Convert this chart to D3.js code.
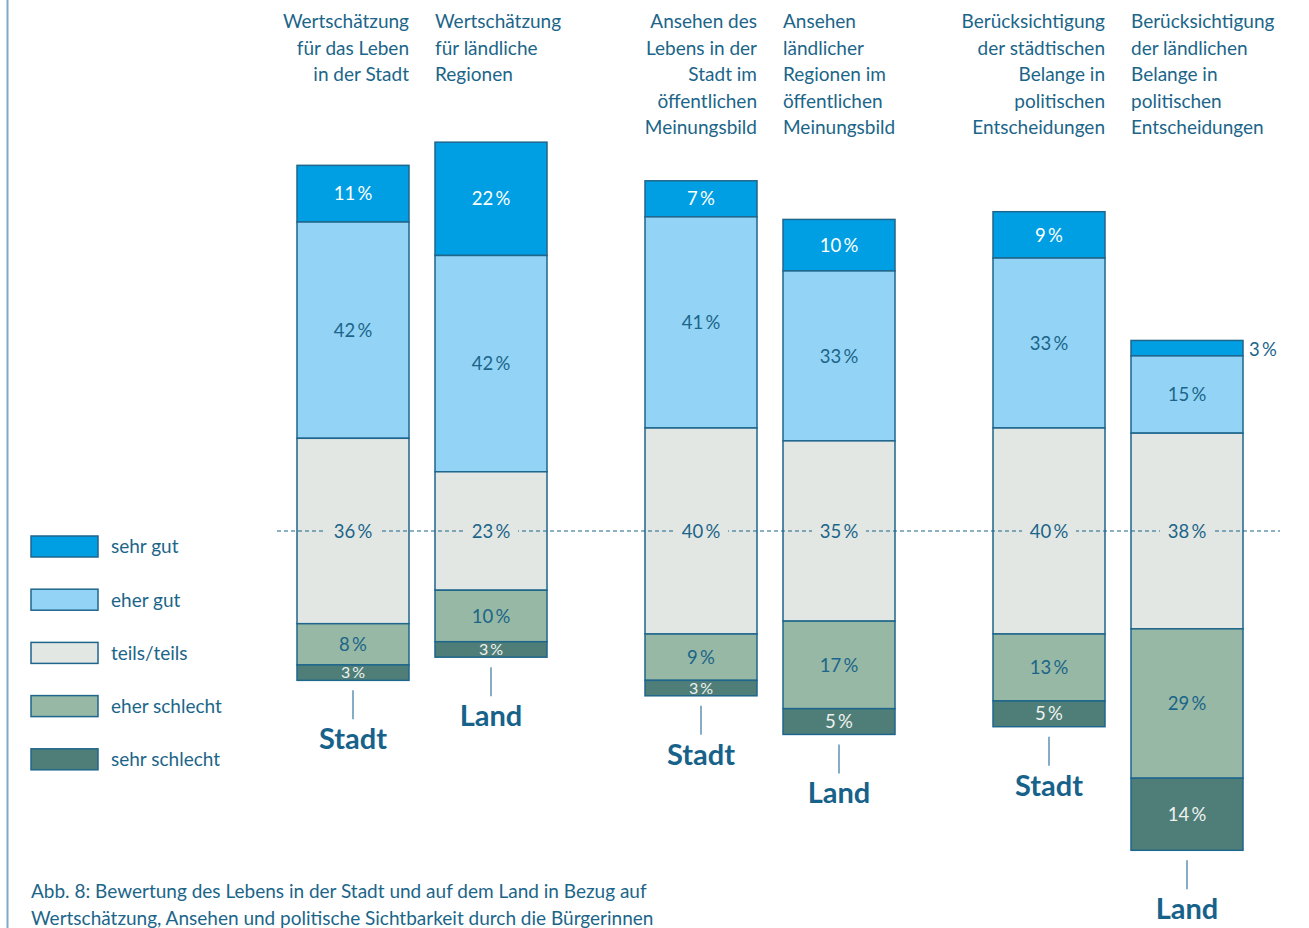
<!DOCTYPE html>
<html>
<head>
<meta charset="utf-8">
<script src="https://cdn.jsdelivr.net/npm/d3@7"></script>
<style>
  body { margin: 0; background: #fff; }
  svg text { font-family: Lato, "Open Sans", sans-serif; }
</style>
</head>
<body>
<svg id="canvas" width="1309" height="928"></svg>
<script>
// data
let categories = ['sehr gut', 'eher gut', 'teils/teils', 'eher schlecht', 'sehr schlecht']
let groups = ['Wertschätzung', 'Ansehen', 'Berücksichtigung']
let places = ['Stadt', 'Land']
let barValues = [
  [11, 42, 36, 8, 3],
  [22, 42, 23, 10, 3],
  [7, 41, 40, 9, 3],
  [10, 33, 35, 17, 5],
  [9, 33, 40, 13, 5],
  [3, 15, 38, 29, 14]
]
let headers = [
  ['Wertschätzung', 'für das Leben', 'in der Stadt'],
  ['Wertschätzung', 'für ländliche', 'Regionen'],
  ['Ansehen des', 'Lebens in der', 'Stadt im', 'öffentlichen', 'Meinungsbild'],
  ['Ansehen', 'ländlicher', 'Regionen im', 'öffentlichen', 'Meinungsbild'],
  ['Berücksichtigung', 'der städtischen', 'Belange in', 'politischen', 'Entscheidungen'],
  ['Berücksichtigung', 'der ländlichen', 'Belange in', 'politischen', 'Entscheidungen']
]
let captionLines = [
  'Abb. 8: Bewertung des Lebens in der Stadt und auf dem Land in Bezug auf',
  'Wertschätzung, Ansehen und politische Sichtbarkeit durch die Bürgerinnen'
]

let colors = ['#009fe3', '#93d4f6', '#e3e7e4', '#97b8a4', '#4f7e78']
let textColors = ['#ffffff', '#1b6589', '#1b6589', '#1b6589', '#eef2ef']
let ink = '#1b6589'
let stroke = '#1f668c'

let canvas = d3.select('#canvas')

// left border line
canvas.append('line')
  .attr('x1', 7.5).attr('x2', 7.5).attr('y1', 0).attr('y2', 928)
  .attr('stroke', '#7fa9c4').attr('stroke-width', 2)

// scales
let xGroup = d3.scaleBand().domain(groups).range([297, 1243]).paddingInner(98 / 348)
let xPlace = d3.scaleBand().domain(places).range([0, xGroup.bandwidth()]).paddingInner(26 / 138)
let y = d3.scaleLinear().domain([-50, 50]).range([531 - 5.15 * 50, 531 + 5.15 * 50])

let bars = barValues.map((vals, i) => {
  let g = groups[Math.floor(i / 2)]
  let p = places[i % 2]
  // start so that the middle of teils/teils sits on 0
  let start = -(vals[0] + vals[1] + vals[2] / 2)
  let acc = start
  let segs = vals.map((v, k) => {
    let s = { y0: acc, y1: acc + v, v: v, k: k, bx: 0, small: false }
    acc += v
    return s
  })
  let x = xGroup(g) + xPlace(p)
  segs.forEach(s => { s.bx = x; s.small = s.v < 5 && s.k === 0 })
  return { i: i, x: x, place: p, segs: segs, top: start, bottom: acc }
})
let bw = xPlace.bandwidth()
let allSegs = bars.flatMap(d => d.segs)

let barLayer = canvas.append('g')
let lineLayer = canvas.append('g')
let labelLayer = canvas.append('g')

barLayer.selectAll('rect')
  .data(allSegs)
  .enter()
  .append('rect')
  .attr('x', s => s.bx)
  .attr('y', s => y(s.y0))
  .attr('width', bw)
  .attr('height', s => y(s.y1) - y(s.y0))
  .attr('fill', s => colors[s.k])
  .attr('stroke', stroke)
  .attr('stroke-width', 1.5)

// dashed center line over the bars
lineLayer.append('line')
  .attr('x1', 277).attr('x2', 1280).attr('y1', y(0)).attr('y2', y(0))
  .attr('stroke', ink).attr('stroke-width', 1.2).attr('stroke-dasharray', '4,3')

// gap in the dashed line behind the teils/teils labels
labelLayer.selectAll('rect.gap')
  .data(allSegs.filter(s => s.k === 2))
  .enter()
  .append('rect')
  .attr('class', 'gap')
  .attr('x', s => s.bx + bw / 2 - 27)
  .attr('y', y(0) - 4)
  .attr('width', 54)
  .attr('height', 8)
  .attr('fill', colors[2])

labelLayer.selectAll('text.val')
  .data(allSegs)
  .enter()
  .append('text')
  .attr('class', 'val')
  .attr('x', s => s.small ? s.bx + bw + 6 : s.bx + bw / 2)
  .attr('y', s => s.small ? y(s.y0) + 9 : y((s.y0 + s.y1) / 2))
  .attr('dy', '0.36em')
  .attr('text-anchor', s => s.small ? 'start' : 'middle')
  .attr('fill', s => s.small ? ink : textColors[s.k])
  .attr('font-size', s => (s.v <= 3 && !s.small) ? 16 : 18.5)
  .text(s => s.v + '\u2009%')

let barG = labelLayer.selectAll('g.bar')
  .data(bars)
  .enter()
  .append('g')
  .attr('class', 'bar')

// Stadt / Land ticks and labels
barG.append('line')
  .attr('x1', d => d.x + bw / 2).attr('x2', d => d.x + bw / 2)
  .attr('y1', d => y(d.bottom) + 10).attr('y2', d => y(d.bottom) + 39)
  .attr('stroke', '#5d92b3').attr('stroke-width', 1.5)

barG.append('text')
  .attr('x', d => d.x + bw / 2)
  .attr('y', d => y(d.bottom) + 69)
  .attr('text-anchor', 'middle')
  .attr('fill', '#17628a')
  .attr('font-size', 29)
  .attr('font-weight', 'bold')
  .text(d => d.place)

// headers
barG.each(function (d) {
  let right = d.place === 'Stadt'
  let t = d3.select(this).append('text')
    .attr('text-anchor', right ? 'end' : 'start')
    .attr('fill', ink)
    .attr('font-size', 19)
  headers[d.i].forEach((line, j) => {
    t.append('tspan')
      .attr('x', right ? d.x + bw : d.x)
      .attr('y', 28 + j * 26.6)
      .text(line)
  })
})

// legend
let legend = canvas.selectAll('g.legend')
  .data(categories)
  .enter()
  .append('g')
  .attr('class', 'legend')
  .attr('transform', (d, i) => 'translate(31,' + (536 + i * 53.2) + ')')

legend.append('rect')
  .attr('width', 67).attr('height', 21)
  .attr('fill', (d, i) => colors[i])
  .attr('stroke', stroke).attr('stroke-width', 1.5)

legend.append('text')
  .attr('x', 80).attr('y', 10.5).attr('dy', '0.36em')
  .attr('fill', ink).attr('font-size', 19)
  .text(d => d)

// caption
canvas.selectAll('text.caption')
  .data(captionLines)
  .enter()
  .append('text')
  .attr('class', 'caption')
  .attr('x', 31)
  .attr('y', (d, i) => 898 + i * 26.5)
  .attr('fill', ink)
  .attr('font-size', 19)
  .text(d => d)
</script>
</body>
</html>
